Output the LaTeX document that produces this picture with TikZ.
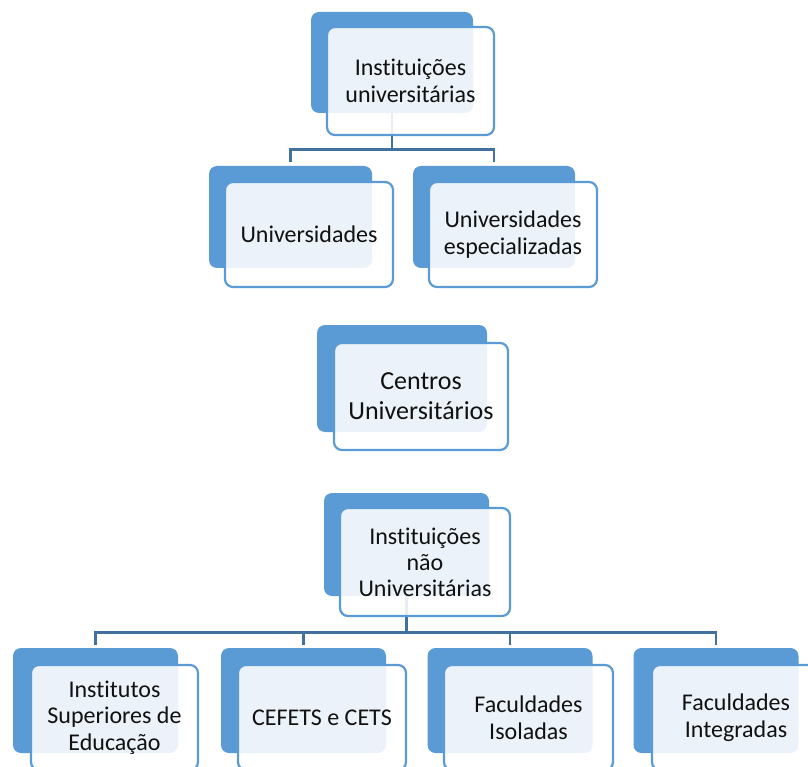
\documentclass[tikz,border=0pt]{standalone}
\usepackage{fontspec}
\setmainfont[Ligatures={NoCommon}]{Carlito}
\definecolor{bk}{HTML}{5B9BD5}
\definecolor{ln}{HTML}{41719C}
\definecolor{tx}{HTML}{111111}
\begin{document}
\begin{tikzpicture}[x=1pt,y=-1pt,
 backbox/.style={rectangle, rounded corners=8pt, fill=bk, draw=none, inner sep=0pt},
 frontbox/.style={rectangle, rounded corners=8pt, draw=bk, line width=2.2pt, fill=white, fill opacity=0.88, text opacity=1, text=tx, align=center, inner sep=0pt, font=\fontsize{24}{27}\selectfont},
 conn/.style={draw=ln, line width=2.8pt}]
\useasboundingbox (0,0) rectangle (808,767);
\clip (0,0) rectangle (808,767);
% back boxes
\node[backbox, minimum width=162pt, minimum height=101pt] (iuB) at (392,62.5) {};
\node[backbox, minimum width=163pt, minimum height=102pt] (unB) at (290.5,217) {};
\node[backbox, minimum width=162pt, minimum height=102pt] (esB) at (494,217) {};
\node[backbox, minimum width=170pt, minimum height=107pt] (ceB) at (402,378.5) {};
\node[backbox, minimum width=165pt, minimum height=103pt] (nuB) at (406.5,544.5) {};
\node[backbox, minimum width=165pt, minimum height=105pt] (isB) at (95.5,700.5) {};
\node[backbox, minimum width=165pt, minimum height=105pt] (cfB) at (303.5,700.5) {};
\node[backbox, minimum width=165pt, minimum height=105pt] (fiB) at (510,700.5) {};
\node[backbox, minimum width=165pt, minimum height=105pt] (fgB) at (716,700.5) {};
% connectors
\draw[conn] (iuB.south) -- ++(0,36) -| ([yshift=4pt]unB.north);
\draw[conn] (iuB.south) -- ++(0,36) -| ([yshift=4pt]esB.north);
\draw[conn] (nuB.south) -- ++(0,36) -| ([yshift=3pt]isB.north);
\draw[conn] (nuB.south) -- ++(0,36) -| ([yshift=3pt]cfB.north);
\draw[conn] (nuB.south) -- ++(0,36) -| ([yshift=3pt]fiB.north);
\draw[conn] (nuB.south) -- ++(0,36) -| ([yshift=3pt]fgB.north);
% front boxes
\node[frontbox, minimum width=167pt, minimum height=108pt] (iuF) at (410.5,81) {Instituições\\universitárias};
\node[frontbox, minimum width=168pt, minimum height=105pt] (unF) at (309,234.5) {Universidades};
\node[frontbox, minimum width=168pt, minimum height=105pt] (esF) at (513,234.5) {Universidades\\especializadas};
\node[frontbox, minimum width=174pt, minimum height=107pt, font=\fontsize{26}{30}\selectfont] (ceF) at (421,396.5) {Centros\\Universitários};
\node[frontbox, minimum width=170pt, minimum height=108pt, font=\fontsize{24}{26}\selectfont] (nuF) at (425,562) {Instituições\\não\\Universitárias};
\node[frontbox, minimum width=167pt, minimum height=105pt, font=\fontsize{24}{26.5}\selectfont] (isF) at (114.5,717.5) {Institutos\\Superiores de\\Educação};
\node[frontbox, minimum width=168pt, minimum height=105pt] (cfF) at (322,717.5) {CEFETS e CETS};
\node[frontbox, minimum width=169pt, minimum height=105pt] (fiF) at (528.5,717.5) {Faculdades\\Isoladas};
\node[frontbox, minimum width=168pt, minimum height=105pt] (fgF) at (736,717.5) {Faculdades\\Integradas};
\end{tikzpicture}
\end{document}
